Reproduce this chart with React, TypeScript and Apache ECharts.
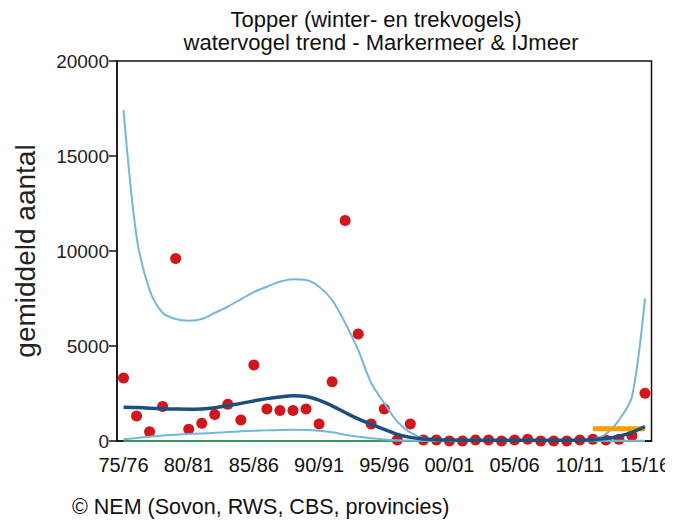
import React, { useEffect, useRef } from "react";
import * as echarts from "echarts";

const seasons: string[] = [
  "75/76","76/77","77/78","78/79","79/80","80/81","81/82","82/83","83/84","84/85",
  "85/86","86/87","87/88","88/89","89/90","90/91","91/92","92/93","93/94","94/95",
  "95/96","96/97","97/98","98/99","99/00","00/01","01/02","02/03","03/04","04/05",
  "05/06","06/07","07/08","08/09","09/10","10/11","11/12","12/13","13/14","14/15","15/16",
];

const observed: number[] = [
  3320, 1320, 490, 1810, 9600, 615, 930, 1400, 1930, 1100,
  4000, 1680, 1600, 1600, 1680, 895, 3120, 11600, 5630, 895,
  1680, 50, 895, 50, 50, 0, 0, 50, 50, 0,
  50, 90, 0, 0, 0, 50, 90, 50, 90, 280, 2510,
];

const trend: number[] = [
  1780, 1760, 1730, 1700, 1680, 1670, 1690, 1750, 1850, 1980,
  2110, 2230, 2320, 2380, 2340, 2150, 1850, 1500, 1160, 880,
  610, 350, 190, 110, 70, 50, 40, 40, 40, 40,
  40, 40, 40, 40, 40, 45, 70, 130, 250, 450, 760,
];

const upper: number[] = [
  17420, 10750, 7950, 6750, 6420, 6330, 6420, 6740, 7070, 7460,
  7840, 8120, 8380, 8510, 8470, 8120, 7420, 6210, 4790, 3050,
  2000, 1020, 440, 160, 60, 30, 30, 30, 30, 30,
  30, 30, 30, 30, 30, 40, 100, 370, 1100, 2330, 7510,
];

const lower: number[] = [
  90, 160, 230, 290, 330, 370, 400, 430, 470, 510,
  540, 560, 580, 590, 580, 540, 460, 330, 230, 140,
  80, 40, 20, 10, 10, 10, 10, 10, 10, 10,
  10, 10, 10, 10, 10, 10, 10, 10, 10, 10, 10,
];

const recentMean: (number | null)[] = seasons.map((_, i) => (i >= 36 ? 640 : null));
const baseline: number[] = seasons.map(() => 0);

const yTicks = { min: 0, max: 20000, interval: 5000 };

export default function App() {
  const ref = useRef<HTMLDivElement>(null);
  useEffect(() => {
    if (!ref.current) return;
    const chart = echarts.init(ref.current, undefined, { renderer: "svg" });
    const lightBlue = "#74b7da";
    const font = "Liberation Sans";
    chart.setOption({
      animation: false,
      backgroundColor: "#ffffff",
      grid: {
        left: 117, right: 20, top: 61, bottom: 80,
        show: true, borderColor: "#111", borderWidth: 1.5,
      },
      graphic: [
        {
          type: "text", x: 376, y: 19,
          style: {
            text: "Topper (winter- en trekvogels)",
            fontFamily: font, fontSize: 22, fill: "#111",
            textAlign: "center", textVerticalAlign: "middle",
          },
        },
        {
          type: "text", x: 381, y: 42,
          style: {
            text: "watervogel trend - Markermeer & IJmeer",
            fontFamily: font, fontSize: 22, fill: "#111",
            textAlign: "center", textVerticalAlign: "middle",
          },
        },
        {
          type: "text", x: 72, y: 507,
          style: {
            text: "© NEM (Sovon, RWS, CBS, provincies)",
            fontFamily: font, fontSize: 21.5, fill: "#111",
            textVerticalAlign: "middle",
          },
        },
      ],
      xAxis: {
        type: "category",
        data: seasons,
        boundaryGap: true,
        axisLine: { lineStyle: { color: "#111", width: 1.5 } },
        axisTick: { interval: 4, alignWithLabel: true, length: 8, lineStyle: { color: "#111", width: 1.5 } },
        axisLabel: { interval: 4, margin: 14, fontFamily: font, fontSize: 20, color: "#111" },
        splitLine: { show: false },
      },
      yAxis: {
        type: "value",
        min: yTicks.min, max: yTicks.max, interval: yTicks.interval,
        name: "gemiddeld aantal",
        nameLocation: "middle",
        nameGap: 78,
        nameRotate: 90,
        nameTextStyle: { fontFamily: font, fontSize: 28, color: "#222" },
        axisLine: { show: true, lineStyle: { color: "#111", width: 1.5 } },
        axisTick: { show: true, length: 8, lineStyle: { color: "#111", width: 1.5 } },
        axisLabel: {
          margin: 8, fontFamily: font, fontSize: 19, color: "#222",
          formatter: (v: number) => String(v),
        },
        splitLine: { show: false },
      },
      series: [
        {
          type: "line", data: baseline, symbol: "none", silent: true,
          lineStyle: { color: "#3a9a5c", width: 2 },
        },
        {
          type: "line", data: lower, symbol: "none", smooth: 0.4,
          lineStyle: { color: lightBlue, width: 2 },
        },
        {
          type: "line", data: upper, symbol: "none", smooth: 0.3,
          lineStyle: { color: lightBlue, width: 2 },
        },
        {
          type: "line", data: recentMean, symbol: "none",
          lineStyle: { color: "#f2a100", width: 5 },
        },
        {
          type: "line", data: trend, symbol: "none", smooth: 0.4,
          lineStyle: { color: "#1c4f7c", width: 3.5 },
        },
        {
          type: "scatter", data: observed, symbol: "circle", symbolSize: 11,
          itemStyle: { color: "#d0181c", opacity: 1 },
        },
      ],
    });
    return () => chart.dispose();
  }, []);
  return <div ref={ref} style={{ width: 673, height: 521, marginLeft: -8, marginTop: -8 }} />;
}
